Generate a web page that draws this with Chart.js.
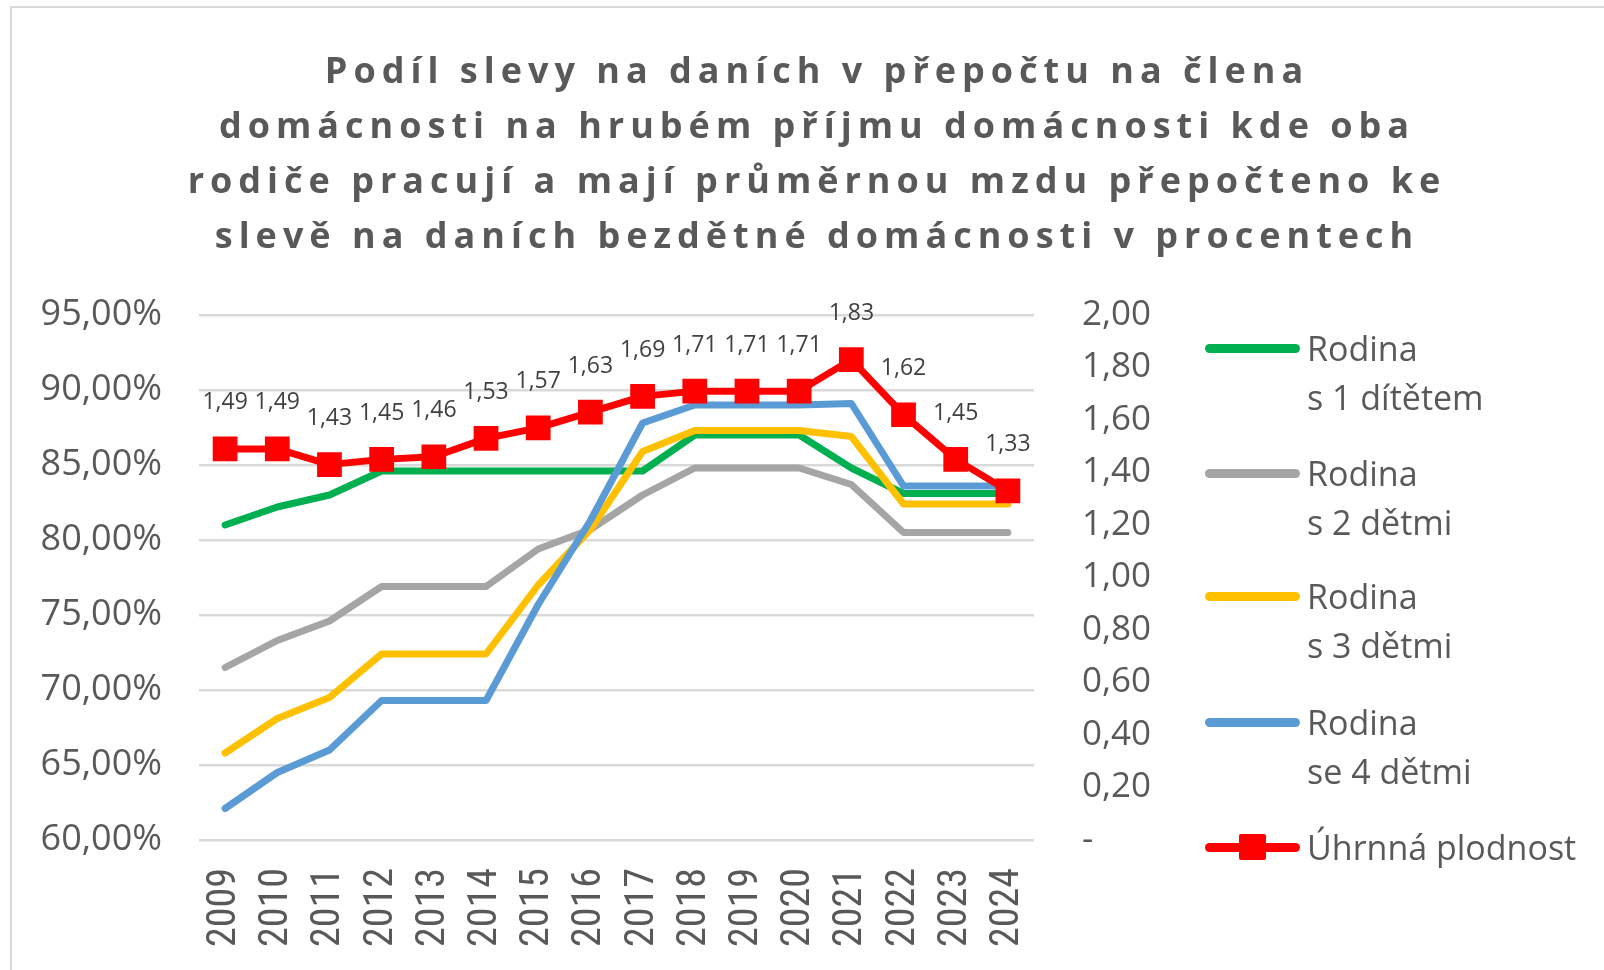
<!DOCTYPE html>
<html>
<head>
<meta charset="utf-8">
<script src="https://cdn.jsdelivr.net/npm/chart.js@4.4.1/dist/chart.umd.min.js"></script>
<style>
  html, body { margin: 0; padding: 0; background: #fff; overflow: hidden; }
  #wrap { position: relative; width: 1604px; height: 970px; }
  #frame { position: absolute; left: 10px; top: 6px; width: 1620px; height: 1000px; border: 2px solid #d9d9d9; box-sizing: border-box; }
  #title { position: absolute; left: 0; top: 42px; width: 1634px; text-align: center; font-family: 'Open Sans', sans-serif; font-weight: bold; font-size: 36px; line-height: 55px; letter-spacing: 6px; color: #595959; }
  .lg { position: absolute; left: 1205px; }
  .lg .ln { position: absolute; left: 0; width: 95px; height: 9px; border-radius: 5px; }
  .lg .mk { position: absolute; left: 34px; width: 27px; height: 26px; border-radius: 2px; background: #ff0000; }
  .lg .tx { position: absolute; left: 102px; white-space: pre; font-family: 'Open Sans', sans-serif; font-size: 34px; line-height: 49px; color: #595959; }
</style>
</head>
<body>
<div id="wrap">
  <canvas id="chartPodil" width="1604" height="970"></canvas>
  <div id="frame"></div>
  <div id="title">Podíl slevy na daních v přepočtu na člena<br>domácnosti na hrubém příjmu domácnosti kde oba<br>rodiče pracují a mají průměrnou mzdu přepočteno ke<br>slevě na daních bezdětné domácnosti v procentech</div>
  <div id="legend"></div>
</div>
<script>
const roky = ['2009', '2010', '2011', '2012', '2013', '2014', '2015', '2016', '2017', '2018', '2019', '2020', '2021', '2022', '2023', '2024']
const rodina1 = [81.0, 82.2, 83.0, 84.6, 84.6, 84.6, 84.6, 84.6, 84.6, 87.0, 87.0, 87.0, 84.8, 83.1, 83.1, 83.1]
const rodina2 = [71.5, 73.3, 74.6, 76.9, 76.9, 76.9, 79.4, 80.7, 83.0, 84.8, 84.8, 84.8, 83.7, 80.5, 80.5, 80.5]
const rodina3 = [65.8, 68.1, 69.5, 72.4, 72.4, 72.4, 77.0, 80.7, 85.9, 87.3, 87.3, 87.3, 86.9, 82.4, 82.4, 82.4]
const rodina4 = [62.1, 64.5, 66.0, 69.3, 69.3, 69.3, 75.7, 81.3, 87.8, 89.0, 89.0, 89.0, 89.1, 83.6, 83.6, 83.6]
const plodnost = [1.49, 1.49, 1.43, 1.45, 1.46, 1.53, 1.57, 1.63, 1.69, 1.71, 1.71, 1.71, 1.83, 1.62, 1.45, 1.33]
const tickyVlevo = [60, 65, 70, 75, 80, 85, 90, 95]
const tickyVpravo = [0, 0.2, 0.4, 0.6, 0.8, 1.0, 1.2, 1.4, 1.6, 1.8, 2.0]
const nazvy = ['Rodina\ns 1 dítětem', 'Rodina\ns 2 dětmi', 'Rodina\ns 3 dětmi', 'Rodina\nse 4 dětmi', 'Úhrnná plodnost']
const barvy = ['#00b050', '#a5a5a5', '#ffc000', '#5b9bd5', '#ff0000']

const carka = (v) => v.toFixed(2).replace('.', ',')

const stitky = {
  id: 'stitky',
  afterDatasetsDraw (chart) {
    const meta = chart.getDatasetMeta(4)
    const ctx = chart.ctx
    ctx.save()
    ctx.font = '23px "Open Sans"'
    ctx.fillStyle = '#404040'
    ctx.textAlign = 'center'
    ctx.textBaseline = 'middle'
    meta.data.forEach((pt, i) => {
      ctx.fillText(carka(plodnost[i]), pt.x, pt.y - 46)
    })
    ctx.restore()
  }
}

const rada = (i, data, extra) => Object.assign({
  label: nazvy[i].replace('\n', ' '),
  data: data,
  borderColor: barvy[i],
  backgroundColor: barvy[i],
  borderWidth: 7,
  borderCapStyle: 'round',
  borderJoinStyle: 'round',
  pointRadius: 0,
  yAxisID: 'y',
  order: 5 - i
}, extra)

fntGraf = () => {
  const ctx = document.getElementById('chartPodil')
  new Chart(ctx, {
    type: 'line',
    data: {
      labels: roky,
      datasets: [
        rada(0, rodina1),
        rada(1, rodina2),
        rada(2, rodina3),
        rada(3, rodina4),
        rada(4, plodnost, { yAxisID: 'y2', pointStyle: 'rect', pointRadius: 17.5, pointBorderWidth: 0, pointHoverRadius: 17.5 })
      ]
    },
    options: {
      responsive: false,
      animation: false,
      layout: { padding: { left: 22, top: 315, right: 420, bottom: 0 } },
      plugins: { legend: { display: false }, title: { display: false }, tooltip: { enabled: false } },
      scales: {
        x: {
          offset: true,
          grid: { display: false, drawTicks: false },
          border: { display: false },
          ticks: { minRotation: 90, maxRotation: 90, padding: 28, color: '#595959', font: { family: '"Roboto Condensed", "Liberation Sans"', size: 40 } },
          afterFit: (s) => { s.height = 130 }
        },
        y: {
          position: 'left',
          min: 60,
          max: 95,
          afterBuildTicks: (s) => { s.ticks = tickyVlevo.map(v => ({ value: v })) },
          grid: { color: '#d9d9d9', lineWidth: 2.5, drawTicks: false },
          border: { display: false },
          ticks: { padding: 37, color: '#595959', font: { family: 'Open Sans', size: 36 }, callback: (v) => carka(v) + '%' },
          afterFit: (s) => { s.width = 177 }
        },
        y2: {
          position: 'right',
          min: 0,
          max: 2,
          afterBuildTicks: (s) => { s.ticks = tickyVpravo.map(v => ({ value: v })) },
          grid: { display: false, drawTicks: false },
          border: { display: false },
          ticks: { padding: 48, color: '#595959', font: { family: 'Open Sans', size: 35 }, callback: (v) => v === 0 ? '-' : carka(v) },
          afterFit: (s) => { s.width = 150 }
        }
      }
    },
    plugins: [stitky]
  })
}

fntLegenda = () => {
  const stredy = [348, 473, 596, 722, 847]
  const el = document.getElementById('legend')
  nazvy.forEach((n, i) => {
    const d = document.createElement('div')
    d.className = 'lg'
    d.style.top = stredy[i] + 'px'
    d.innerHTML = '<div class="ln" style="top:-4.5px;background:' + barvy[i] + '"></div>' +
      (i === 4 ? '<div class="mk" style="top:-13px"></div>' : '') +
      '<div class="tx" style="top:-24.5px"></div>'
    d.querySelector('.tx').textContent = n
    el.appendChild(d)
  })
}

document.addEventListener('DOMContentLoaded', function () {
  fntGraf()
  fntLegenda()
}, false)
</script>
</body>
</html>
